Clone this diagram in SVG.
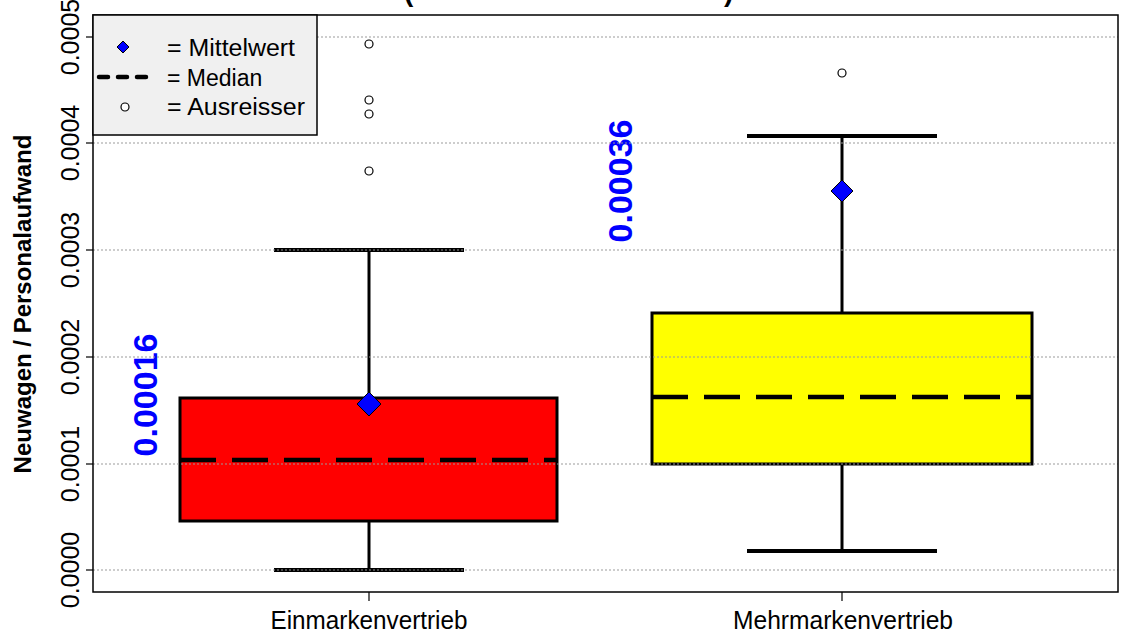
<svg xmlns="http://www.w3.org/2000/svg" width="1129" height="633" viewBox="0 0 1129 633">
<style>
text{font-family:"Liberation Sans",Arial,sans-serif;fill:#000}
.tick{font-size:25px}
.grid{stroke:#999;stroke-opacity:0.65;stroke-width:1.3;stroke-dasharray:2 2;fill:none}
.box{stroke:#000;stroke-width:3}
.wh{stroke:#000;stroke-width:3;fill:none}
.cap{stroke:#000;stroke-width:4;fill:none}
.med{stroke:#000;stroke-width:4.5;stroke-dasharray:36 16;fill:none}
.mean{fill:#0000ff;stroke:#000;stroke-width:1}
.out{fill:#fff;stroke:#000;stroke-width:1.2}
.val{font-size:34px;font-weight:bold;fill:#0000ff}
.leg{font-size:23px}
</style>
<rect width="1129" height="633" fill="#fff"/>
<g id="title">
<text x="404" y="1" font-size="28" font-weight="bold">(</text>
<text x="724" y="1" font-size="28" font-weight="bold">)</text>
</g>
<g id="box-einmarken">
<line class="wh" x1="369" y1="398" x2="369" y2="250"/>
<line class="wh" x1="369" y1="521" x2="369" y2="570"/>
<line class="cap" x1="274" y1="250" x2="464" y2="250"/>
<line class="cap" x1="274" y1="570" x2="464" y2="570"/>
<rect class="box" x="180" y="398" width="377" height="123" fill="#ff0000"/>
<line class="med" x1="180" y1="460" x2="557" y2="460"/>
<path class="mean" d="M369 392 L381 404 L369 416 L357 404 Z"/>
<circle class="out" cx="369" cy="44" r="4"/>
<circle class="out" cx="369" cy="100" r="4"/>
<circle class="out" cx="369" cy="114" r="4"/>
<circle class="out" cx="369" cy="171" r="4"/>
<text class="val" x="157" y="395" text-anchor="middle" transform="rotate(-90 157 395)">0.00016</text>
</g>
<g id="box-mehrmarken">
<line class="wh" x1="842" y1="313" x2="842" y2="136"/>
<line class="wh" x1="842" y1="464" x2="842" y2="551"/>
<line class="cap" x1="747" y1="136" x2="937" y2="136"/>
<line class="cap" x1="747" y1="551" x2="937" y2="551"/>
<rect class="box" x="652" y="313" width="380" height="151" fill="#ffff00"/>
<line class="med" x1="652" y1="397" x2="1032" y2="397"/>
<path class="mean" d="M842 180 L853 191 L842 202 L831 191 Z"/>
<circle class="out" cx="842" cy="73" r="4"/>
<text class="val" x="632" y="181" text-anchor="middle" transform="rotate(-90 632 181)">0.00036</text>
</g>
<g id="gridlines">
<line class="grid" x1="93" y1="37" x2="1118" y2="37"/>
<line class="grid" x1="93" y1="143" x2="1118" y2="143"/>
<line class="grid" x1="93" y1="250" x2="1118" y2="250"/>
<line class="grid" x1="93" y1="357" x2="1118" y2="357"/>
<line class="grid" x1="93" y1="464" x2="1118" y2="464"/>
<line class="grid" x1="93" y1="570" x2="1118" y2="570"/>
</g>
<g id="axes">
<rect x="93" y="15" width="1025" height="577" fill="none" stroke="#000" stroke-width="1.5"/>
<g stroke="#000" stroke-width="1.2">
<line x1="86" y1="37" x2="93" y2="37"/>
<line x1="86" y1="143" x2="93" y2="143"/>
<line x1="86" y1="250" x2="93" y2="250"/>
<line x1="86" y1="357" x2="93" y2="357"/>
<line x1="86" y1="464" x2="93" y2="464"/>
<line x1="86" y1="570" x2="93" y2="570"/>
<line x1="369" y1="592" x2="369" y2="601"/>
<line x1="842" y1="592" x2="842" y2="601"/>
</g>
<text class="tick" x="79" y="37" text-anchor="middle" transform="rotate(-90 79 37)">0.0005</text>
<text class="tick" x="79" y="143" text-anchor="middle" transform="rotate(-90 79 143)">0.0004</text>
<text class="tick" x="79" y="250" text-anchor="middle" transform="rotate(-90 79 250)">0.0003</text>
<text class="tick" x="79" y="357" text-anchor="middle" transform="rotate(-90 79 357)">0.0002</text>
<text class="tick" x="79" y="464" text-anchor="middle" transform="rotate(-90 79 464)">0.0001</text>
<text class="tick" x="79" y="570" text-anchor="middle" transform="rotate(-90 79 570)">0.0000</text>
<text class="tick" x="369" y="629" text-anchor="middle" textLength="197" lengthAdjust="spacingAndGlyphs">Einmarkenvertrieb</text>
<text class="tick" x="843" y="629" text-anchor="middle" textLength="220" lengthAdjust="spacingAndGlyphs">Mehrmarkenvertrieb</text>
<text x="31" y="304" font-size="24" font-weight="bold" text-anchor="middle" transform="rotate(-90 31 304)">Neuwagen / Personalaufwand</text>
</g>
<g id="legend">
<rect x="93" y="15" width="224" height="120" fill="#f0f0f0" stroke="#000" stroke-width="1.5"/>
<path class="mean" d="M123 41 L129 47 L123 53 L117 47 Z"/>
<line x1="99" y1="77" x2="147" y2="77" stroke="#000" stroke-width="4.5" stroke-dasharray="9 10" stroke-linecap="round"/>
<circle class="out" cx="125" cy="107" r="4"/>
<text class="leg" x="167" y="56" textLength="128" lengthAdjust="spacingAndGlyphs">= Mittelwert</text>
<text class="leg" x="167" y="86">= Median</text>
<text class="leg" x="167" y="115" textLength="138" lengthAdjust="spacingAndGlyphs">= Ausreisser</text>
</g>
</svg>
